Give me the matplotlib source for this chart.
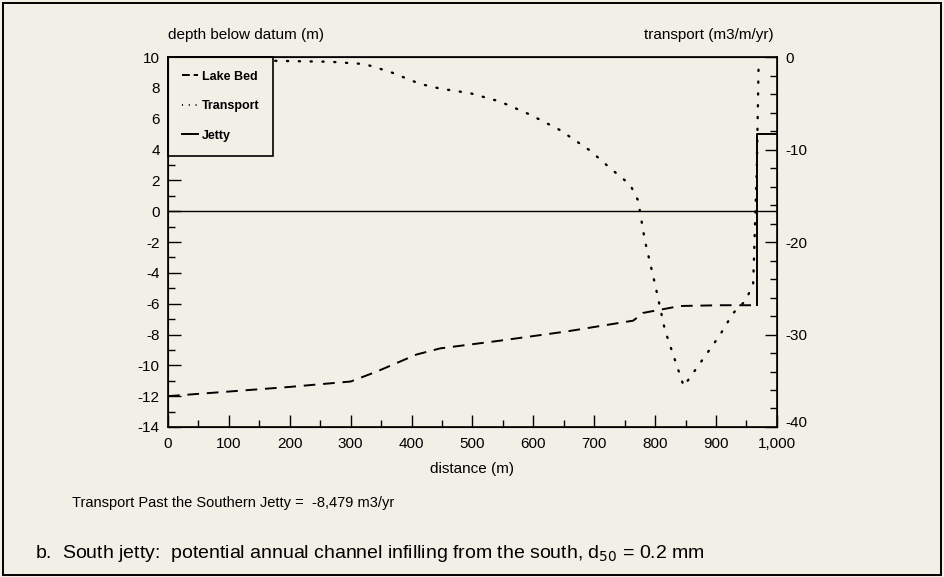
import numpy as np
import matplotlib
matplotlib.use("Agg")
import matplotlib.pyplot as plt
from matplotlib.lines import Line2D
from matplotlib.patches import Rectangle
from matplotlib.ticker import MultipleLocator, FuncFormatter

plt.rcParams['font.family'] = ['Liberation Sans', 'DejaVu Sans']
plt.rcParams['axes.unicode_minus'] = False

# lake bed profile (depth below datum, m)
bed_x = [0, 100, 200, 300, 343, 408, 447, 545, 655, 764, 780, 841, 906, 967]
bed_y = [-12.0, -11.7, -11.4, -11.05, -10.4, -9.3, -8.9, -8.4, -7.8, -7.1, -6.6, -6.15, -6.1, -6.1]

# transport (m3/m/yr), right axis
tr_x = [176, 266, 323, 365, 414, 447, 496, 545, 594, 644, 693, 726, 759, 772,
        783, 800, 816, 847, 906, 928, 949, 961, 967, 970]
tr_y = [-0.4, -0.5, -0.75, -1.6, -2.9, -3.4, -3.9, -4.8, -6.2, -7.9, -10.1, -12.0,
        -13.8, -15.5, -19.8, -24.6, -29.5, -35.6, -30.1, -27.7, -26.3, -24.5, -12.0, -0.5]

# jetty outline
jetty_x = [967, 967, 1000]
jetty_y = [-6.1, 5.0, 5.0]

bg = '#f2efe6'
fig = plt.figure(figsize=(9.44, 5.77), dpi=100, facecolor=bg)
ax = fig.add_axes([0.178, 0.260, 0.645, 0.641])
ax.set_facecolor(bg)

ax.plot(bed_x, bed_y, color='black', lw=1.4, ls=(0, (6, 4)))
ax.plot(jetty_x, jetty_y, color='black', lw=1.4)
ax.axhline(0, color='black', lw=1.0)

ax.set_xlim(0, 1000)
ax.set_ylim(-14, 10)
ax.xaxis.set_major_locator(MultipleLocator(100))
ax.xaxis.set_minor_locator(MultipleLocator(50))
ax.yaxis.set_major_locator(MultipleLocator(2))
ax.yaxis.set_minor_locator(MultipleLocator(1))
ax.xaxis.set_major_formatter(FuncFormatter(lambda v, p: f"{int(v):,}"))
ax.tick_params(which='both', direction='in', labelsize=11, width=1)
ax.tick_params(which='major', length=9)
ax.tick_params(which='minor', length=5)
ax.tick_params(axis='x', pad=7)
ax.tick_params(axis='y', which='both', left=True, right=False, pad=6)
for s in ax.spines.values():
    s.set_linewidth(1.2)

ax2 = ax.twinx()
ax2.plot(tr_x, tr_y, color='black', lw=1.7, ls=(0, (0.5, 4.5)), dash_capstyle='round')
ax2.set_ylim(-40, 0)
ax2.yaxis.set_major_locator(MultipleLocator(10))
ax2.yaxis.set_minor_locator(MultipleLocator(2))
ax2.tick_params(which='both', direction='in', labelsize=11, width=1, pad=6)
ax2.tick_params(which='major', length=9)
ax2.tick_params(which='minor', length=5)
for lab in ax2.get_yticklabels():
    if lab.get_text() == '-40':
        lab.set_va('baseline')

ax.text(0, 1.04, 'depth below datum (m)', transform=ax.transAxes, fontsize=11,
        ha='left', va='bottom')
ax.text(0.995, 1.04, 'transport (m3/m/yr)', transform=ax.transAxes, fontsize=11,
        ha='right', va='bottom')
ax.set_xlabel('distance (m)', fontsize=11, labelpad=8)

handles = [Line2D([], [], color='black', lw=1.4, ls=(0, (4, 2))),
           Line2D([], [], color='black', lw=1.4, ls=(0, (0.5, 3))),
           Line2D([], [], color='black', lw=1.4)]
leg = ax.legend(handles, ['Lake Bed', 'Transport', 'Jetty'], loc='upper left',
                bbox_to_anchor=(0, 1), borderaxespad=0, fancybox=False,
                edgecolor='black', facecolor=bg, framealpha=1,
                handlelength=1.3, handletextpad=0.3, labelspacing=1.4,
                borderpad=1.1, prop={'weight': 'bold', 'size': 9})
leg.get_frame().set_linewidth(1.2)
leg.set_zorder(5)

fig.text(72 / 944, 1 - 503 / 577, 'Transport Past the Southern Jetty =  -8,479 m3/yr',
         fontsize=10.5, ha='left', va='center')
fig.text(35 / 944, 1 - 553 / 577,
         'b.  South jetty:  potential annual channel infilling from the south, d$_{50}$ = 0.2 mm',
         fontsize=14, ha='left', va='center')

fig.patches.append(Rectangle((0.003, 0.004), 0.994, 0.99, transform=fig.transFigure,
                             fill=False, edgecolor='black', lw=1.4))

fig.savefig('out.png', dpi=100, facecolor=bg)
